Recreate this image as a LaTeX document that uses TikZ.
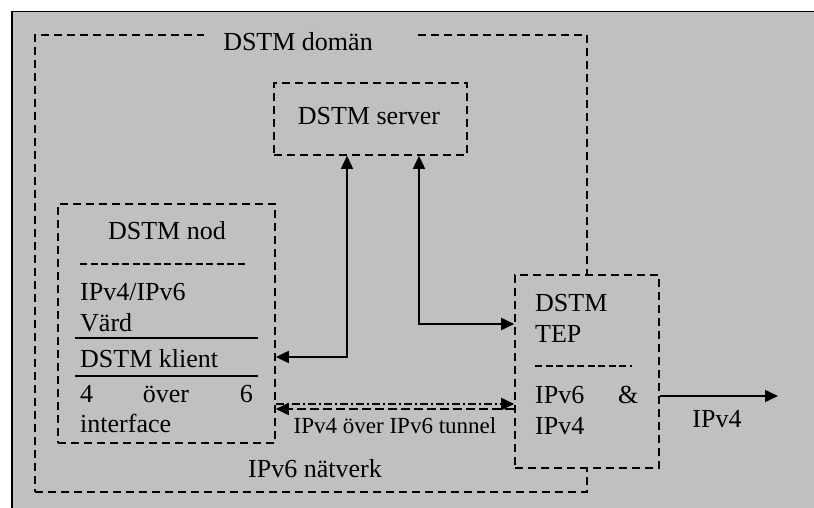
\documentclass[tikz,border=0pt]{standalone}
\usepackage{fontspec}
\setmainfont{Liberation Serif}
\usetikzlibrary{arrows.meta}
\definecolor{bg}{HTML}{C0C0C0}
\tikzset{
  dbox/.style={draw, line width=1.6pt, dash pattern=on 8pt off 5pt, fill=bg, inner sep=0pt},
  sepline/.style={line width=1.3pt, dash pattern=on 7pt off 3.5pt},
  rule/.style={line width=1.5pt},
  tip/.tip={Triangle[length=13pt,width=12pt]},
  conn/.style={line width=1.6pt},
  txt/.style={inner sep=0pt, font=\fontsize{26}{28}\selectfont},
  smalltxt/.style={inner sep=0pt, font=\fontsize{23}{25}\selectfont},
}
\begin{document}
\begin{tikzpicture}[x=1pt,y=-1pt]
\useasboundingbox (0,0) rectangle (814,508);
\clip (0,0) rectangle (814,508);
% outer frame
\node[draw, line width=1.5pt, fill=bg, inner sep=0pt, minimum width=812pt, minimum height=508pt, anchor=north west] (frame) at (11,11) {};
% domain
\node[dbox, minimum width=552pt, minimum height=457pt] (domain) at (311,263.5) {};
\node[fill=bg, inner sep=0pt, minimum width=214pt, minimum height=8pt] (gap) at (311,35) {};
\node[txt, anchor=base] (domlbl) at (298,51) {DSTM domän};
\node[txt, anchor=base] (netlbl) at (315,477) {IPv6 nätverk};
% server
\node[dbox, minimum width=193pt, minimum height=72pt] (server) at (370.5,119) {};
\node[txt, anchor=base] (serverlbl) at (369,125) {DSTM server};
% nod
\node[dbox, minimum width=217pt, minimum height=239pt] (nod) at (166.5,323.5) {};
\node[txt, anchor=base] (nodlbl) at (167,239) {DSTM nod};
\draw[sepline] (80,264) -- (247,264);
\node[txt, anchor=base west] (n1) at (80,300) {IPv4/IPv6};
\node[txt, anchor=base west] (n2) at (80,331) {Värd};
\draw[rule] (75,338) -- (258,338);
\node[txt, anchor=base west] (n3) at (80,367) {DSTM klient};
\draw[rule] (75,376) -- (258,376);
\node[txt, anchor=base west] (n4a) at (80,402) {4};
\node[txt, anchor=base] (n4b) at (166,402) {över};
\node[txt, anchor=base east] (n4c) at (253,402) {6};
\node[txt, anchor=base west] (n5) at (80,432) {interface};
% TEP
\node[dbox, minimum width=144pt, minimum height=193pt] (tep) at (587,371.5) {};
\node[txt, anchor=base west] (t1l) at (535,311) {DSTM};
\node[txt, anchor=base west] (t2l) at (535,342) {TEP};
\draw[sepline] (535,366) -- (632,366);
\node[txt, anchor=base west] (t3l) at (535,403) {IPv6};
\node[txt, anchor=base west] (t3r) at (618,403) {\&};
\node[txt, anchor=base west] (t4l) at (535,434) {IPv4};
% connectors
\coordinate (k1) at (347,357);
\coordinate (k2) at (419,324);
\coordinate (out) at (778,396);
\coordinate (tu) at (0,404);
\coordinate (tl) at (0,409);
\draw[conn, tip-tip] (nod.east |- k1) -- (k1) -- (server.south -| k1);
\draw[conn, tip-tip] (server.south -| k2) -- (k2) -- (tep.west |- k2);
\draw[conn, -tip] (tep.east |- out) -- (out);
\node[txt, anchor=base] (outlbl) at (717,427) {IPv4};
\draw[conn, dash pattern=on 8pt off 3pt on 2pt off 3pt, -tip] (nod.east |- tu) -- (tep.west |- tu);
\draw[conn, dash pattern=on 9pt off 4pt, -tip] (tep.west |- tl) -- (nod.east |- tl);
\node[smalltxt, anchor=base] (tunlbl) at (395,433) {IPv4 över IPv6 tunnel};
\end{tikzpicture}
\end{document}
